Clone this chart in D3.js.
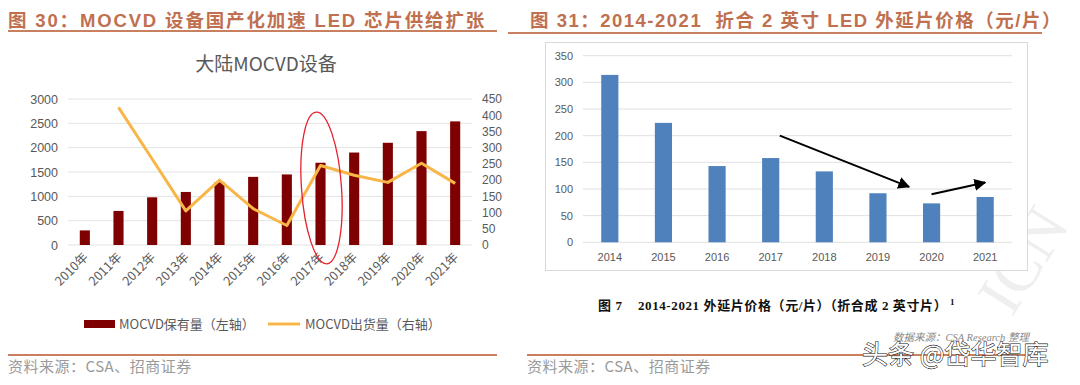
<!DOCTYPE html>
<html><head><meta charset="utf-8">
<script src="https://cdn.jsdelivr.net/npm/d3@7"></script>
<style>body{margin:0;background:#fff}svg{display:block}text{white-space:pre}</style>
</head><body>
<svg id="c" width="1080" height="385"></svg>
<script>
// ---------- data ----------
const years1 = ["2010年","2011年","2012年","2013年","2014年","2015年","2016年","2017年","2018年","2019年","2020年","2021年"];
const mocvdHold = [300,700,980,1090,1290,1400,1450,1690,1900,2100,2340,2540];
const mocvdShip = [null,424,265,105,200,112,60,245,215,193,252,190];
const leftTicks = [0,500,1000,1500,2000,2500,3000];
const rightTicks = [0,50,100,150,200,250,300,350,400,450];

const years2 = ["2014","2015","2016","2017","2018","2019","2020","2021"];
const prices = [314,224,143,158,133,92,73,85];
const priceTicks = [0,50,100,150,200,250,300,350];
// arrow annotations: [startIndex, startValue, endIndex, endValue]
const arrows = [[3.17,200,5.58,104],[6.0,90,7.0,112]];

const cjk = "'Noto Sans CJK SC','Noto Sans',sans-serif";
const num = "'Liberation Sans','Noto Sans CJK SC',sans-serif";
const hdr = "'Liberation Sans','Noto Sans CJK SC',sans-serif";
const svg = d3.select("#c");

// ---------- headers ----------
const hColor = "#c0704f";
svg.append("text").attr("x",8).attr("y",27).attr("font-family",hdr).attr("font-weight","bold")
  .attr("font-size",18.5).attr("letter-spacing",1.85).attr("fill",hColor).text("图 30：MOCVD 设备国产化加速 LED 芯片供给扩张");
svg.append("text").attr("x",530).attr("y",27).attr("font-family",hdr).attr("font-weight","bold")
  .attr("font-size",18.5).attr("letter-spacing",1.5).attr("fill",hColor).text("图 31：2014-2021  折合 2 英寸 LED 外延片价格（元/片）");
svg.append("line").attr("x1",8).attr("x2",497).attr("y1",31).attr("y2",31).attr("stroke","#c8805f").attr("stroke-width",2);
svg.append("line").attr("x1",508).attr("x2",1042).attr("y1",33).attr("y2",33).attr("stroke","#c8805f").attr("stroke-width",2);

// ---------- left chart ----------
const L = {x0:68, x1:472, y0:245, y1:99};
const xL = d3.scaleBand().domain(years1).range([L.x0,L.x1]).paddingInner(0.7).paddingOuter(0.35);
const yL = d3.scaleLinear().domain([0,3000]).range([L.y0,L.y1]);
const yR = d3.scaleLinear().domain([0,450]).range([L.y0,L.y1]);

svg.append("text").attr("x",266).attr("y",71).attr("text-anchor","middle").attr("font-family",cjk)
  .attr("font-size",19).attr("fill","#595959").text("大陆MOCVD设备");

svg.append("g").selectAll("line").data(leftTicks).join("line").attr("x1",L.x0).attr("x2",L.x1)
  .attr("y1",d=>yL(d)).attr("y2",d=>yL(d)).attr("stroke","#e3e3e3").attr("stroke-width",1);

const axL = svg.append("g").attr("transform",`translate(${L.x0-6},0)`)
  .call(d3.axisLeft(yL).tickValues(leftTicks).tickFormat(d3.format("d")).tickSize(0).tickPadding(4));
axL.select(".domain").remove();
axL.selectAll("text").attr("font-family",num).attr("font-size",12.5).attr("fill","#595959");

const axR = svg.append("g").attr("transform",`translate(${L.x1+6},0)`)
  .call(d3.axisRight(yR).tickValues(rightTicks).tickFormat(d3.format("d")).tickSize(0).tickPadding(4));
axR.select(".domain").remove();
axR.selectAll("text").attr("font-family",num).attr("font-size",12).attr("fill","#595959");

svg.append("g").selectAll("rect").data(mocvdHold).join("rect")
  .attr("x",(d,i)=>xL(years1[i])).attr("width",xL.bandwidth())
  .attr("y",d=>yL(d)).attr("height",d=>yL(0)-yL(d)).attr("fill","#7f0000");

const line = d3.line().defined(d=>d!=null)
  .x((d,i)=>xL(years1[i])+xL.bandwidth()/2).y(d=>yR(d));
svg.append("path").datum(mocvdShip).attr("d",line).attr("fill","none")
  .attr("stroke","#f8b648").attr("stroke-width",3).attr("stroke-linejoin","round");

// x labels rotated
svg.append("g").selectAll("text").data(years1).join("text")
  .attr("transform",d=>`translate(${xL(d)+xL.bandwidth()/2+4},${L.y0+13}) rotate(-45)`)
  .attr("text-anchor","end").attr("font-family",cjk).attr("font-size",12.5).attr("fill","#595959").text(d=>d);

// red ellipse highlight around 2017
const cx17 = xL("2017年")+xL.bandwidth()/2;
svg.append("ellipse").attr("cx",cx17+1).attr("cy",188).attr("rx",20).attr("ry",76)
  .attr("transform",`rotate(-4,${cx17+1},188)`)
  .attr("fill","none").attr("stroke","#e8202a").attr("stroke-width",1.3);

// legend
svg.append("rect").attr("x",84).attr("y",320).attr("width",31).attr("height",8).attr("fill","#7f0000");
svg.append("text").attr("x",119).attr("y",329).attr("font-family",cjk).attr("font-size",13).attr("fill","#595959").text("MOCVD保有量（左轴）");
svg.append("line").attr("x1",268).attr("x2",300).attr("y1",324).attr("y2",324).attr("stroke","#f8b648").attr("stroke-width",3);
svg.append("text").attr("x",305).attr("y",329).attr("font-family",cjk).attr("font-size",13).attr("fill","#595959").text("MOCVD出货量（右轴）");

// ---------- right chart ----------
// faint watermark
svg.append("text").attr("transform","translate(1012,318) rotate(-58)").attr("font-family","'Liberation Serif',serif")
  .attr("font-size",64).attr("fill","#efefef").text("ICN");

svg.append("rect").attr("x",545.5).attr("y",42.5).attr("width",482).attr("height",228)
  .attr("fill","#fff").attr("stroke","#d9d9d9").attr("stroke-width",1);

const R = {x0:583, x1:1012, y0:242.3, y1:55.7};
const xB = d3.scaleBand().domain(years2).range([R.x0,R.x1]).paddingInner(0.68).paddingOuter(0.34);
const yB = d3.scaleLinear().domain([0,350]).range([R.y0,R.y1]);
const xIdx = d3.scaleLinear().domain([0,years2.length-1])
  .range([xB(years2[0])+xB.bandwidth()/2, xB(years2[years2.length-1])+xB.bandwidth()/2]);

svg.append("g").selectAll("line").data(priceTicks).join("line").attr("x1",R.x0).attr("x2",R.x1)
  .attr("y1",d=>yB(d)).attr("y2",d=>yB(d)).attr("stroke","#e0e0e0").attr("stroke-width",1);

const axB = svg.append("g").attr("transform",`translate(${R.x0-6},0)`)
  .call(d3.axisLeft(yB).tickValues(priceTicks).tickSize(0).tickPadding(4));
axB.select(".domain").remove();
axB.selectAll("text").attr("font-family",num).attr("font-size",11).attr("fill","#595959");

svg.append("g").selectAll("rect").data(prices).join("rect")
  .attr("x",(d,i)=>xB(years2[i])).attr("width",xB.bandwidth())
  .attr("y",d=>yB(d)).attr("height",d=>yB(0)-yB(d)).attr("fill","#4f81bd");

const axBX = svg.append("g").attr("transform",`translate(0,${R.y0+7})`)
  .call(d3.axisBottom(xB).tickSize(0).tickPadding(4));
axBX.select(".domain").remove();
axBX.selectAll("text").attr("font-family",num).attr("font-size",11).attr("fill","#595959");

const defs = svg.append("defs");
defs.append("marker").attr("id","ah").attr("viewBox","0 0 10 10").attr("refX",9).attr("refY",5)
  .attr("markerWidth",6).attr("markerHeight",6).attr("markerUnits","strokeWidth").attr("orient","auto")
  .append("path").attr("d","M0,0 L10,5 L0,10 z").attr("fill","#000");
svg.append("g").selectAll("line").data(arrows).join("line")
  .attr("x1",d=>xIdx(d[0])).attr("y1",d=>yB(d[1])).attr("x2",d=>xIdx(d[2])).attr("y2",d=>yB(d[3]))
  .attr("stroke","#000").attr("stroke-width",2).attr("marker-end","url(#ah)");

// caption
const cap = svg.append("text").attr("x",598).attr("y",310).attr("font-family","'Liberation Serif','Noto Sans CJK SC',serif")
  .attr("font-weight","bold").attr("font-size",13).attr("letter-spacing",0.6).attr("fill","#111");
cap.append("tspan").text("图 7    2014-2021 外延片价格（元/片）（折合成 2 英寸片）");
cap.append("tspan").attr("dy",-5).attr("font-size",9).text(" 1");

// ---------- sources ----------
svg.append("line").attr("x1",8).attr("x2",497).attr("y1",355).attr("y2",355).attr("stroke","#c8805f").attr("stroke-width",2);
svg.append("line").attr("x1",527).attr("x2",1040).attr("y1",355).attr("y2",355).attr("stroke","#c8805f").attr("stroke-width",2);
svg.append("text").attr("x",8).attr("y",372).attr("font-family",cjk).attr("font-size",15).attr("letter-spacing",0.5).attr("fill","#9a9a9a").text("资料来源：CSA、招商证券");
svg.append("text").attr("x",527).attr("y",372).attr("font-family",cjk).attr("font-size",15).attr("letter-spacing",0.5).attr("fill","#9a9a9a").text("资料来源：CSA、招商证券");
svg.append("text").attr("x",893).attr("y",341).attr("font-family","'Liberation Serif','Noto Sans CJK SC',serif")
  .attr("font-style","italic").attr("font-size",10.5).attr("fill","#888").text("数据来源：CSA Research 整理");
svg.append("text").attr("x",862).attr("y",364).attr("font-family",cjk).attr("font-size",26)
  .attr("fill","#fff").attr("stroke","#111").attr("stroke-width",1.1).attr("paint-order","stroke")
  .text("头条 @岱华智库");
</script>
</body></html>
